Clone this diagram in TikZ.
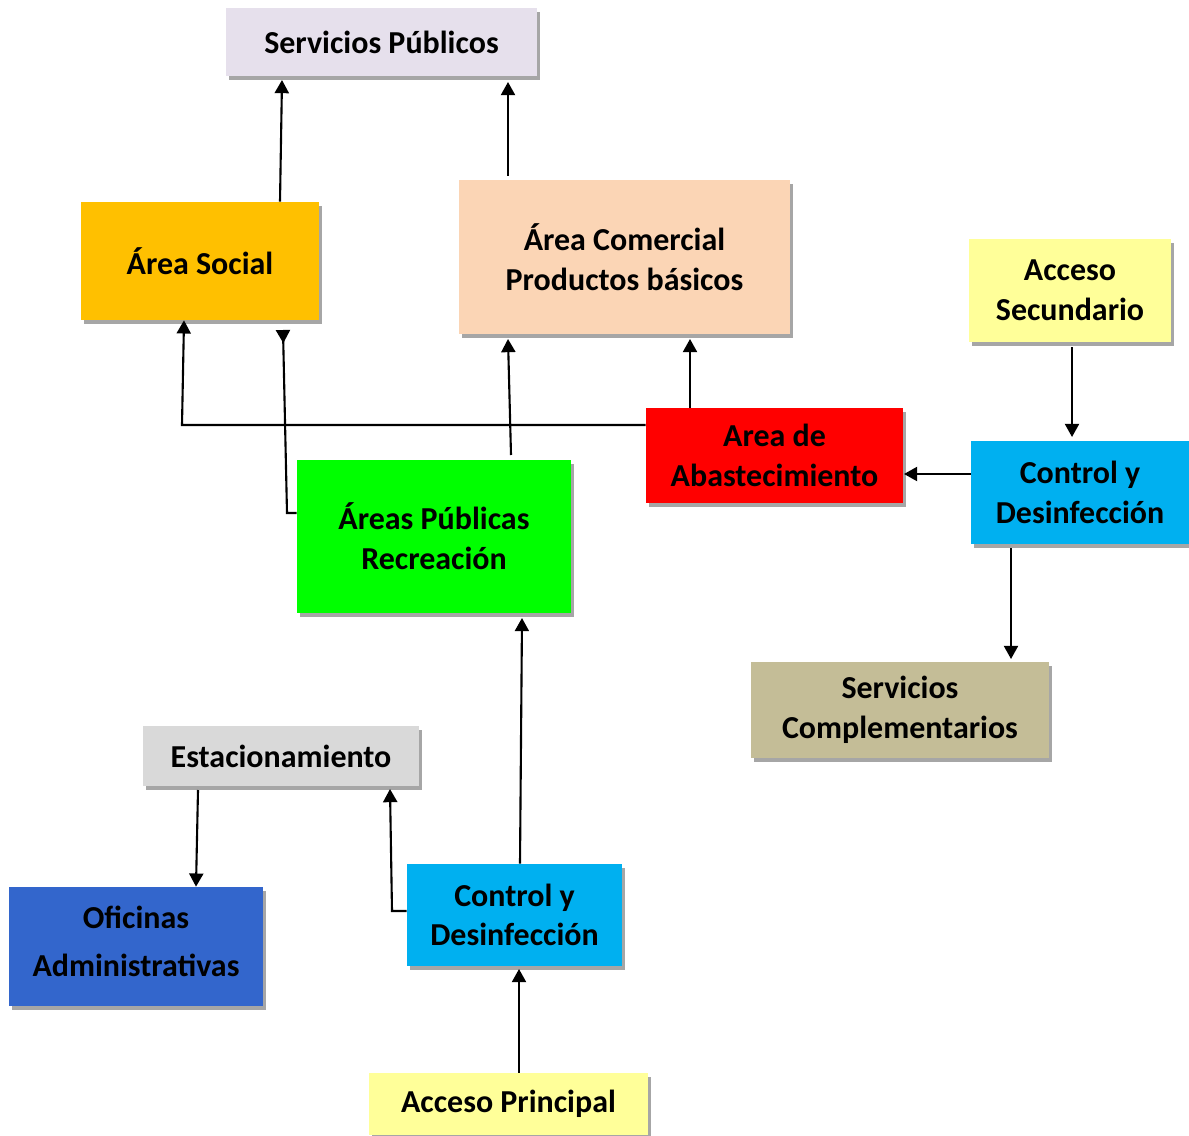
\documentclass[tikz,border=0pt]{standalone}
\usepackage{fontspec}
\setmainfont{Carlito}
\usetikzlibrary{arrows.meta,shadows}
\definecolor{lavanda}{HTML}{E6E0EC}
\definecolor{naranja}{HTML}{FFC000}
\definecolor{durazno}{HTML}{FBD5B5}
\definecolor{amarillo}{HTML}{FFFF99}
\definecolor{celeste}{HTML}{00B0F0}
\definecolor{verde}{HTML}{00FF00}
\definecolor{caqui}{HTML}{C4BD97}
\definecolor{gris}{HTML}{D9D9D9}
\definecolor{azul}{HTML}{3366CC}
\tikzset{
  area/.style={rectangle,inner sep=0pt,align=center,
    font=\fontsize{18.2}{22.6}\selectfont\bfseries,
    drop shadow={shadow xshift=1.6pt,shadow yshift=-2.4pt,fill=black,opacity=.35}},
  flecha/.style={line width=1.2pt,-{Triangle[width=8pt,length=7.5pt]}},
  flechainv/.style={line width=1.2pt,-{Triangle[width=8pt,length=7.5pt,reversed]}}
}
\begin{document}
\begin{tikzpicture}[x=0.02cm,y=-0.02cm]
  \useasboundingbox(0,0)rectangle(1189,1135);
  \node[area,fill=lavanda,minimum width=6.22cm,minimum height=1.36cm](sp)at(381.5,42){Servicios Públicos};
  \node[area,fill=naranja,minimum width=4.76cm,minimum height=2.36cm](as)at(200,261){Área Social};
  \node[area,fill=durazno,minimum width=6.62cm,minimum height=3.08cm](ac)at(624.5,257){Área Comercial\\Productos básicos};
  \node[area,fill=amarillo,minimum width=4.04cm,minimum height=2.06cm](asec)at(1070,290.5){Acceso\\Secundario};
  \node[area,fill=red,minimum width=5.14cm,minimum height=1.9cm](ab)at(774.5,455.5){Area de\\Abastecimiento};
  \node[area,fill=celeste,minimum width=4.36cm,minimum height=2.06cm](cda)at(1080,492.5){Control y\\Desinfección};
  \node[area,fill=verde,minimum width=5.48cm,minimum height=3.06cm](apr)at(434,536.5){Áreas Públicas\\Recreación};
  \node[area,fill=caqui,minimum width=5.96cm,minimum height=1.92cm](sc)at(900,710){Servicios\\Complementarios};
  \node[area,fill=gris,minimum width=5.52cm,minimum height=1.2cm](est)at(281,756){Estacionamiento};
  \node[area,fill=azul,minimum width=5.08cm,minimum height=2.38cm,text depth=6pt,font=\fontsize{18.2}{26.8}\selectfont\bfseries](of)at(136,946.5){Oficinas\\Administrativas};
  \node[area,fill=celeste,minimum width=4.3cm,minimum height=2.04cm](cdb)at(514.5,915){Control y\\Desinfección};
  \node[area,fill=amarillo,minimum width=5.58cm,minimum height=1.24cm](ap)at(508.5,1104){Acceso Principal};
  \draw[flecha](280,0|-as.north)--(282,80);
  \draw[flecha](508,176)--(508,82);
  \draw[flecha](ab.west|-0,425)--(182,425)--(184,0|-as.south);
  \draw[flecha](690,0|-ab.north)--(690,339);
  \draw[flecha](511,455)--(508,339);
  \draw[flechainv](apr.west|-0,513)--(287,513)--(283,330);
  \draw[flecha](520,0|-cdb.north)--(522,618);
  \draw[flecha](519,0|-ap.north)--(519,969);
  \draw[flecha](198,790)--(196,0|-of.north);
  \draw[flecha](1072,347)--(1072,437);
  \draw[flecha](cda.west|-0,474)--(904,474);
  \draw[flecha](1011,548)--(1011,659);
  \draw[flecha](cdb.west|-0,911)--(392,911)--(390,789);
\end{tikzpicture}
\end{document}
